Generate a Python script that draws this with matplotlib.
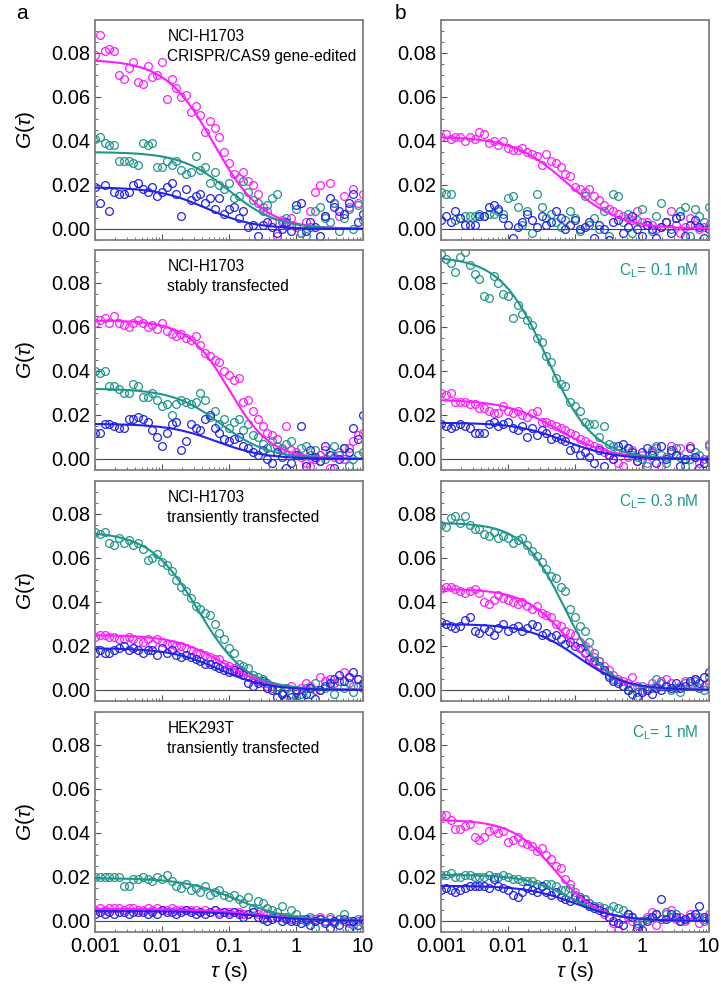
import matplotlib

matplotlib.use("Agg")
import matplotlib.pyplot as plt
import numpy as np
from matplotlib.ticker import FixedLocator, MultipleLocator

# Lag times of the correlator channels (14 per decade, 1 ms .. 10 s).
lagTimes = np.logspace(-3, 1, 57)
gUnit = 1e-3  # all G(tau) values below are in units of 1e-3

# Row 1, column a: NCI-H1703 CRISPR/CAS9 gene-edited
a1Magenta = [79, 88, 81, 82, 81, 70, 68, 73, 76, 67, 66, 74, 69, 70,
             76, 59, 68, 64, 60, 61, 53, 56, 52, 44, 49, 46, 42, 35,
             30, 25, 23, 26, 22, 20, 16, 10, 8, 3, -3, 4, 2, 5,
             1, -2, 3, 8, 17, 20, 6, 21, 12, 6, 15, 10, 18, 12, 16]
a1Teal = [41, 42, 39, 38, 38, 31, 31, 31, 30, 29, 39, 38, 39, 28,
          28, 31, 29, 31, 27, 25, 26, 33, 27, 28, 21, 26, 20, 18,
          21, 14, 15, 22, 17, 13, 12, 8, 11, 14, 16, 3, 5, 2,
          9, -2, -3, 1, 8, 10, 5, 3, 12, -1, 5, 9, 0, 11, 4]
a1Blue = [19, 12, 20, 8, 17, 16, 16, 17, 20, 21, 18, 17, 19, 15,
          17, 19, 21, 16, 6, 18, 13, 15, 16, 12, 14, 9, 14, 7,
          9, 10, 5, 8, 1, 2, -3, 2, 3, 1, -2, 0, 3, -1,
          11, 12, -1, 3, 1, -3, 6, 14, 10, 8, 7, 12, 16, 3, 7]

# Row 1, column b
b1Magenta = [42, 43, 41, 42, 42, 40, 42, 41, 44, 43, 39, 40, 38, 40,
             37, 36, 36, 37, 35, 34, 33, 29, 34, 31, 30, 28, 25, 24,
             19, 18, 17, 18, 15, 13, 11, 9, 8, 7, 6, 5, 4, 8,
             3, 3, 2, 0, 1, 3, 8, 2, -2, 1, 5, 2, 0, 1, 2]
b1Teal = [17, 16, 16, 4, 5, 6, 6, 6, 7, 6, 7, 7, 8, 7,
          14, 15, 10, 2, 8, -2, 16, 10, 5, 7, 3, 1, 4, 8,
          5, -1, 15, 2, 5, 0, 8, -3, 16, 15, 3, 7, -2, 4,
          9, 2, -1, 6, 12, 3, 0, 5, 8, 10, -3, 9, 6, 3, 10]
b1Blue = [4, 6, 3, 8, 5, 2, 2, 2, 6, 6, 10, 11, 9, 5,
          2, -4, 1, 3, 7, 4, 1, 6, 2, 3, 8, 5, 0, 2,
          4, 0, 1, 3, -4, 2, 0, -5, 3, 4, -2, 1, 6, 0,
          -3, 2, 0, -4, 1, 3, -2, 5, 6, -3, 2, 4, 1, -4, 0]

# Row 2, column a: NCI-H1703 stably transfected
a2Magenta = [62, 63, 64, 62, 65, 62, 61, 60, 62, 63, 62, 60, 61, 59,
             62, 58, 57, 56, 57, 55, 54, 56, 52, 48, 47, 45, 44, 40,
             38, 36, 37, 26, 27, 22, 18, 15, 12, 11, 9, 5, 15, 4,
             3, 1, -2, -3, 0, 2, 4, -4, 1, 3, 0, 5, 8, 11, 12]
a2Teal = [40, 39, 40, 33, 33, 32, 30, 30, 34, 33, 28, 28, 30, 27,
          24, 25, 20, 25, 27, 26, 25, 26, 30, 27, 19, 22, 16, 18,
          14, 17, 18, 13, 16, 11, 10, 7, 5, 8, 6, 4, 7, 8,
          2, 5, 6, 2, 4, -1, 0, 3, 6, 2, 5, -3, 0, 2, 3]
a2Blue = [12, 12, 16, 16, 15, 14, 14, 18, 18, 19, 18, 17, 13, 10,
          6, 12, 16, 17, 4, 8, 16, 14, 13, 18, 20, 14, 12, 9,
          8, 9, 10, 6, 5, 3, 2, 4, 0, -2, 3, 1, -4, -2,
          2, 15, -3, 4, 1, -1, 6, 2, -4, 0, 5, 3, 14, 9, 20]

# Row 2, column b: C_L = 0.1 nM
b2Teal = [93, 91, 89, 85, 92, 94, 88, 84, 82, 74, 73, 83, 80, 75,
          74, 64, 70, 66, 63, 61, 55, 53, 47, 44, 37, 34, 33, 26,
          24, 22, 17, 16, 16, 10, 15, 7, 6, 4, 3, 5, 2, 1,
          0, -3, 4, 6, 2, -2, 3, 5, 1, -3, 0, 3, 2, -2, 6]
b2Magenta = [30, 29, 30, 26, 26, 26, 25, 25, 23, 23, 22, 21, 21, 24,
             22, 21, 22, 20, 19, 21, 22, 17, 17, 16, 15, 14, 13, 12,
             11, 9, 8, 7, 6, 5, 3, 2, 0, -2, -3, 1, 4, -1,
             2, -2, 3, 5, -3, 1, 6, 2, 5, 0, 6, 1, -2, 0, 7]
b2Blue = [16, 15, 14, 15, 16, 15, 14, 12, 12, 12, 16, 17, 15, 16,
          17, 14, 13, 15, 10, 14, 11, 13, 12, 9, 10, 9, 8, 4,
          5, 2, 3, 1, -2, 4, -3, 2, 0, 6, 7, 5, 3, -1,
          3, 5, 2, -2, 6, 0, 4, 2, -3, 0, 5, 1, -4, -2, 0]

# Row 3, column a: NCI-H1703 transiently transfected
a3Teal = [72, 71, 72, 67, 66, 69, 67, 68, 66, 67, 64, 59, 60, 62,
          58, 57, 54, 50, 47, 45, 42, 38, 37, 35, 34, 30, 26, 23,
          19, 17, 12, 11, 10, 7, 6, 5, 3, 2, 0, -1, 1, -2,
          -3, -2, 1, -2, 3, 0, 1, 2, -2, 4, 1, 3, -1, 2, 1]
a3Magenta = [24, 25, 25, 24, 24, 23, 23, 24, 23, 22, 22, 23, 21, 23,
             22, 21, 21, 20, 20, 19, 18, 17, 17, 16, 15, 14, 14, 12,
             11, 10, 9, 8, 6, 5, 4, 3, 2, 1, 0, -2, 1, 2,
             0, 1, 3, 2, 0, 6, 4, 5, 3, 4, 8, 6, 2, 5, 1]
a3Blue = [17, 18, 17, 17, 18, 19, 20, 18, 19, 18, 17, 18, 18, 16,
          19, 17, 18, 16, 15, 16, 15, 14, 13, 12, 12, 11, 10, 9,
          8, 9, 8, 7, 3, 2, 3, 4, 1, 0, -3, -2, -4, -3,
          0, -3, -2, 1, -4, 0, 2, 3, 5, 7, 4, 6, 8, 5, 3]

# Row 3, column b: C_L = 0.3 nM
b3Teal = [75, 74, 78, 79, 76, 79, 75, 73, 73, 71, 70, 72, 69, 70,
          69, 67, 68, 69, 66, 63, 61, 58, 55, 52, 51, 47, 45, 37,
          33, 29, 27, 22, 17, 13, 9, 7, 5, 4, 2, 0, 1, -1,
          2, 0, 1, 5, 3, 2, 0, 1, -1, 3, 2, 4, 1, 0, 6]
b3Magenta = [46, 47, 47, 46, 45, 44, 45, 46, 44, 40, 39, 41, 43, 42,
             41, 40, 39, 40, 38, 37, 38, 35, 34, 33, 30, 29, 27, 26,
             25, 22, 20, 18, 15, 13, 11, 9, 7, 5, 4, 3, 6, 2,
             0, 1, 3, 2, 4, 5, 3, 1, 2, 4, 3, 5, 1, 2, 3]
b3Blue = [31, 30, 29, 28, 29, 32, 33, 27, 26, 28, 27, 25, 28, 30,
          27, 28, 29, 27, 28, 30, 29, 25, 26, 24, 25, 23, 21, 22,
          20, 19, 17, 14, 13, 11, 9, 6, 4, 3, 2, 0, -2, -3,
          -1, 0, -2, 1, 0, 2, 1, 3, 1, 2, 4, 5, 3, 6, 8]

# Row 4, column a: HEK293T transiently transfected
a4Teal = [20, 20, 20, 20, 20, 20, 16, 16, 19, 19, 20, 19, 18, 20,
          19, 21, 18, 16, 15, 17, 14, 15, 13, 16, 12, 13, 14, 12,
          11, 12, 10, 8, 11, 6, 9, 8, 6, 5, 4, 7, 2, 5,
          3, 1, 0, 2, -3, 1, 0, 2, -1, 1, 3, 0, -2, 1, -1]
a4Magenta = [5, 6, 5, 6, 6, 6, 5, 6, 6, 5, 5, 6, 5, 6,
             5, 5, 6, 5, 5, 5, 5, 5, 4, 5, 4, 5, 4, 4,
             4, 4, 4, 3, 3, 4, 3, 3, 3, 2, 2, 2, 1, 1,
             1, 1, 0, 1, 1, 2, 0, 1, 0, 1, 0, -1, 0, 0, 1]
a4Blue = [3, 4, 3, 4, 3, 4, 4, 3, 4, 4, 4, 3, 4, 3,
          5, 4, 4, 3, 4, 5, 4, 3, 4, 3, 4, 5, 3, 4,
          3, 4, 3, 2, 3, 4, 2, 1, 0, 1, 2, 0, 1, 0,
          0, -1, 1, -2, 0, 1, -1, -3, 0, -2, 1, -3, 0, -2, 1]

# Row 4, column b: C_L = 1 nM
b4Magenta = [48, 48, 46, 42, 42, 43, 44, 38, 37, 38, 41, 42, 40, 41,
             36, 37, 38, 36, 35, 34, 32, 33, 30, 28, 25, 24, 19, 17,
             13, 11, 10, 8, 7, 6, 3, 2, -1, -4, 1, 2, 0, -2,
             0, 2, 4, -2, 1, 3, 5, 1, 2, 0, 3, 2, -1, 1, 3]
b4Teal = [21, 21, 22, 20, 20, 21, 21, 20, 20, 20, 21, 20, 20, 21,
          20, 19, 19, 18, 18, 18, 17, 16, 17, 17, 16, 14, 14, 15,
          12, 11, 10, 8, 7, 7, 6, 5, 7, 6, 5, 3, 2, -1,
          0, 1, 2, 3, 1, 4, 2, 3, 0, 1, 2, 3, 2, 0, 2]
b4Blue = [14, 15, 14, 13, 14, 15, 16, 16, 16, 16, 15, 19, 16, 15,
          14, 12, 11, 13, 15, 14, 13, 16, 13, 12, 13, 11, 10, 9,
          11, 10, 8, 7, 6, 5, 4, 2, 0, -1, -2, 3, 2, -3,
          -4, 0, 2, 3, 10, 1, 3, 2, 0, 1, 2, 3, 7, 2, 1]

# Fit parameters: (G0 in 1e-3, tauD s, alpha)
a1Fits = [(77, 0.060, 1.2), (35, 0.10, 1.2), (19, 0.045, 1.2)]
b1Fits = [(42, 0.075, 1.1), None, None]
a2Fits = [(63, 0.100, 1.4), (32, 0.075, 1.2), (16, 0.065, 1.2)]
b2Fits = [(27, 0.055, 1.1), (92, 0.038, 1.25), (16.5, 0.070, 1.2)]
a3Fits = [(25, 0.080, 1.2), (72, 0.035, 1.2), (19, 0.070, 1.2)]
b3Fits = [(46, 0.080, 1.3), (76, 0.068, 1.4), (30, 0.110, 1.2)]
a4Fits = [(5.5, 0.30, 1.0), (19.5, 0.13, 1.1), (4.5, 0.30, 1.0)]
b4Fits = [(46, 0.050, 1.35), (21, 0.085, 1.3), (16, 0.100, 1.2)]

panelNotes = [
    "NCI-H1703\nCRISPR/CAS9 gene-edited",
    "NCI-H1703\nstably transfected",
    "NCI-H1703\ntransiently transfected",
    "HEK293T\ntransiently transfected",
]
ligandNotes = [None, "0.1 nM", "0.3 nM", "1 nM"]

magentaColor = "#ff1cff"
tealColor = "#20958a"
blueColor = "#2323e8"


# Draws one anomalous-diffusion fit curve.
def drawFit(ax, fitParams, color):
    if fitParams is None:
        return
    g0, tauD, alpha = fitParams
    tauFine = np.logspace(-3, 1, 400)
    ax.plot(
        tauFine,
        g0 * gUnit / (1.0 + (tauFine / tauD) ** alpha),
        color=color,
        linewidth=1.5,
        zorder=3,
    )


# Draws one panel: three correlation curves with their fits.
def drawPanel(ax, seriesList, fitList, showXLabels):
    colors = [magentaColor, tealColor, blueColor]
    ax.axhline(0.0, color="#444444", linewidth=0.8, zorder=1)
    for values, color in zip(seriesList, colors):
        ax.plot(
            lagTimes,
            np.array(values) * gUnit,
            linestyle="none",
            marker="o",
            markersize=5.6,
            markerfacecolor="none",
            markeredgecolor=color,
            markeredgewidth=0.9,
            zorder=2,
        )
    for fitParams, color in zip(fitList, colors):
        drawFit(ax, fitParams, color)
    ax.set_xscale("log")
    ax.set_xlim(0.001, 10)
    ax.set_ylim(-0.005, 0.095)
    ax.yaxis.set_major_locator(FixedLocator([0.0, 0.02, 0.04, 0.06, 0.08]))
    ax.yaxis.set_minor_locator(MultipleLocator(0.005))
    ax.set_yticklabels(["0.00", "0.02", "0.04", "0.06", "0.08"])
    ax.set_xticks([0.001, 0.01, 0.1, 1, 10])
    if showXLabels:
        ax.set_xticklabels(["0.001", "0.01", "0.1", "1", "10"])
        ax.set_xlabel(r"$\tau$ (s)", fontsize=15, labelpad=3)
    else:
        ax.set_xticklabels([])
    ax.tick_params(which="both", direction="in", labelsize=14.5,
                   color="#555555")
    ax.tick_params(which="major", length=4, width=0.8)
    ax.tick_params(which="minor", length=2, width=0.6)
    for spine in ax.spines.values():
        spine.set_color("#808080")
        spine.set_linewidth(1.3)


def runHarness():
    plt.rcParams["font.family"] = ["Liberation Sans", "DejaVu Sans"]
    plt.rcParams["mathtext.fontset"] = "custom"
    plt.rcParams["mathtext.rm"] = "Liberation Sans"
    plt.rcParams["mathtext.it"] = "Liberation Sans:italic"

    fig = plt.figure(figsize=(7.21, 9.88), dpi=100)
    rowBottoms = [0.7571, 0.5243, 0.2905, 0.0567]
    panelHeight = 0.2227
    panelWidth = 0.3717
    leftColumn = 0.1318
    rightColumn = 0.6117

    leftSeries = [
        [a1Magenta, a1Teal, a1Blue],
        [a2Magenta, a2Teal, a2Blue],
        [a3Magenta, a3Teal, a3Blue],
        [a4Magenta, a4Teal, a4Blue],
    ]
    rightSeries = [
        [b1Magenta, b1Teal, b1Blue],
        [b2Magenta, b2Teal, b2Blue],
        [b3Magenta, b3Teal, b3Blue],
        [b4Magenta, b4Teal, b4Blue],
    ]
    leftFits = [a1Fits, a2Fits, a3Fits, a4Fits]
    rightFits = [b1Fits, b2Fits, b3Fits, b4Fits]

    for rowIndex in range(4):
        isBottom = rowIndex == 3
        leftAx = fig.add_axes(
            [leftColumn, rowBottoms[rowIndex], panelWidth, panelHeight]
        )
        drawPanel(leftAx, leftSeries[rowIndex], leftFits[rowIndex], isBottom)
        leftAx.set_ylabel(r"$G(\tau)$", fontsize=15, labelpad=10)
        leftAx.text(
            0.27, 0.96, panelNotes[rowIndex],
            transform=leftAx.transAxes,
            fontsize=11.2,
            va="top",
            ha="left",
            linespacing=1.4,
        )

        rightAx = fig.add_axes(
            [rightColumn, rowBottoms[rowIndex], panelWidth, panelHeight]
        )
        drawPanel(rightAx, rightSeries[rowIndex], rightFits[rowIndex], isBottom)
        if ligandNotes[rowIndex] is not None:
            rightAx.text(
                0.96, 0.95, r"C$_\mathrm{L}$= " + ligandNotes[rowIndex],
                transform=rightAx.transAxes,
                fontsize=11.2,
                color=tealColor,
                va="top",
                ha="right",
            )

    fig.text(0.022, 0.996, "a", fontsize=15, va="top", ha="left")
    fig.text(0.548, 0.996, "b", fontsize=15, va="top", ha="left")

    fig.savefig("out.png", dpi=100)
    plt.close(fig)


if __name__ == "__main__":
    runHarness()
